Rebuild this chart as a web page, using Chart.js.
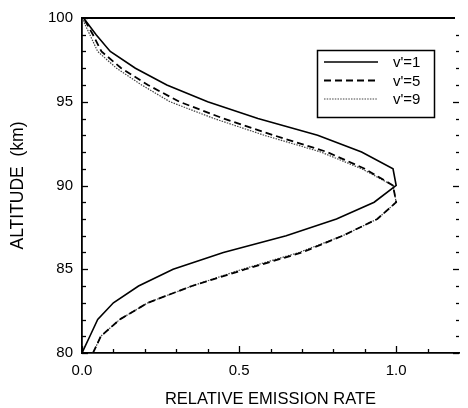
<!DOCTYPE html>
<html>
<head>
<meta charset="utf-8">
<script src="https://cdn.jsdelivr.net/npm/chart.js@4.4.1/dist/chart.umd.min.js"></script>
<style>
  html, body { margin: 0; padding: 0; background: #fff; }
  #wrap { width: 468px; height: 408px; }
</style>
</head>
<body>
<div id="wrap"><canvas id="c" width="468" height="408"></canvas></div>
<script>
// ---- data ----
const altitudes = [80, 81, 82, 83, 84, 85, 86, 87, 88, 89, 90, 91, 92, 93, 94, 95, 96, 97, 98, 99, 100];
const rateV1 = [0.00, 0.025, 0.05, 0.10, 0.18, 0.29, 0.45, 0.65, 0.81, 0.93, 1.00, 0.99, 0.89, 0.75, 0.56, 0.40, 0.27, 0.17, 0.09, 0.045, 0.005];
const rateV5 = [0.035, 0.06, 0.12, 0.21, 0.35, 0.52, 0.70, 0.83, 0.94, 1.00, 0.99, 0.90, 0.78, 0.61, 0.45, 0.31, 0.21, 0.125, 0.062, 0.035, 0.005];
const rateV9 = [0.035, 0.06, 0.12, 0.21, 0.35, 0.51, 0.69, 0.83, 0.94, 1.00, 0.99, 0.89, 0.76, 0.58, 0.42, 0.28, 0.19, 0.11, 0.05, 0.025, 0.0];
const seriesLabels = ["v'=1", "v'=5", "v'=9"];
const xTickLabels = ["0.0", "0.5", "1.0"];
const yTickLabels = ["80", "85", "90", "95", "100"];
const xTitle = "RELATIVE EMISSION RATE";
const yTitle = "ALTITUDE  (km)";

const FONT = "'Liberation Sans', Arial, Helvetica, sans-serif";

function toPoints(rates) {
  return rates.map((v, i) => ({ x: v, y: altitudes[i] }));
}

const styles = [
  { borderColor: '#000', borderWidth: 1.6, borderDash: [] },
  { borderColor: '#000', borderWidth: 1.8, borderDash: [7, 4] },
  { borderColor: '#444', borderWidth: 1.2, borderDash: [1.5, 1.2] }
];

const datasets = [rateV1, rateV5, rateV9].map((r, i) => Object.assign({
  label: seriesLabels[i],
  data: toPoints(r),
  showLine: true,
  fill: false,
  pointRadius: 0,
  tension: 0
}, styles[i]));

function near(a, b) { return Math.abs(a - b) < 1e-6; }

// draws inward ticks, top border, right ticks and legend box
const framePlugin = {
  id: 'frame',
  afterDatasetsDraw(chart) {
    const ctx = chart.ctx;
    const a = chart.chartArea;
    const xs = chart.scales.x, ys = chart.scales.y;
    ctx.save();
    ctx.strokeStyle = '#000';
    ctx.setLineDash([]);
    // top border
    ctx.lineWidth = 1.8;
    ctx.beginPath();
    ctx.moveTo(a.left, a.top);
    ctx.lineTo(a.right - 4, a.top);
    ctx.stroke();
    // x ticks (bottom, inward)
    ctx.lineWidth = 1.3;
    for (let v = 0; v <= 1.2 + 1e-9; v += 0.1) {
      const vv = Math.round(v * 10) / 10;
      const major = xTickLabels.some(l => near(parseFloat(l), vv));
      const px = Math.round(xs.getPixelForValue(vv)) + 0.5;
      if (px > a.right - 1) continue;
      ctx.beginPath();
      ctx.moveTo(px, a.bottom);
      ctx.lineTo(px, a.bottom - (major ? 7 : 4));
      ctx.stroke();
    }
    // y ticks (left and right, inward)
    for (let h = 80; h <= 100; h++) {
      const major = yTickLabels.some(l => near(parseFloat(l), h));
      const py = Math.round(ys.getPixelForValue(h)) + 0.5;
      ctx.beginPath();
      ctx.moveTo(a.left, py);
      ctx.lineTo(a.left + (major ? 6 : 4), py);
      ctx.stroke();
      if (h < 100) {
        ctx.beginPath();
        ctx.moveTo(a.right, py);
        ctx.lineTo(a.right - (major ? 6 : 3), py);
        ctx.stroke();
      }
    }
    // legend
    const bx = 317, by = 50, bw = 117, bh = 67;
    ctx.lineWidth = 1.5;
    ctx.strokeRect(bx + 0.5, by + 0.5, bw, bh);
    ctx.font = '15px ' + FONT;
    ctx.fillStyle = '#000';
    ctx.textBaseline = 'middle';
    ctx.textAlign = 'left';
    chart.data.datasets.forEach((ds, i) => {
      const y = by + 12 + i * 18.5;
      ctx.save();
      ctx.strokeStyle = ds.borderColor;
      ctx.lineWidth = ds.borderWidth;
      ctx.setLineDash(ds.borderDash || []);
      ctx.beginPath();
      ctx.moveTo(bx + 7, y);
      ctx.lineTo(bx + 61, y);
      ctx.stroke();
      ctx.restore();
      ctx.fillText(ds.label, bx + 76, y + 1);
    });
    ctx.restore();
  }
};

new Chart(document.getElementById('c'), {
  type: 'scatter',
  data: { datasets },
  options: {
    responsive: false,
    animation: false,
    devicePixelRatio: 1,
    layout: { padding: { top: 16, right: 0, bottom: 0, left: 0 } },
    plugins: { legend: { display: false }, tooltip: { enabled: false } },
    scales: {
      x: {
        type: 'linear',
        min: 0,
        max: 1.2,
        afterFit: (s) => { s.height = 55; },
        grid: { display: true, drawOnChartArea: false, drawTicks: false, color: 'rgba(0,0,0,0)' },
        border: { display: true, color: '#000', width: 1.8 },
        ticks: {
          autoSkip: false,
          maxRotation: 0,
          padding: 9,
          color: '#000',
          font: { family: FONT, size: 15 },
          stepSize: 0.1,
          callback: (v) => {
            const m = xTickLabels.find(l => near(parseFloat(l), v));
            return m !== undefined ? m : '';
          }
        },
        title: {
          display: true,
          text: xTitle,
          color: '#000',
          font: { family: FONT, size: 16.5, lineHeight: 1.0 },
          padding: { top: 0, bottom: 0 }
        }
      },
      y: {
        type: 'linear',
        min: 80,
        max: 100,
        afterFit: (s) => { s.width = 82; },
        grid: { display: true, drawOnChartArea: false, drawTicks: false, color: 'rgba(0,0,0,0)' },
        border: { display: true, color: '#000', width: 1.8 },
        ticks: {
          autoSkip: false,
          padding: 9,
          color: '#000',
          font: { family: FONT, size: 15 },
          stepSize: 1,
          callback: (v) => {
            const m = yTickLabels.find(l => near(parseFloat(l), v));
            return m !== undefined ? m : '';
          }
        },
        title: {
          display: true,
          text: yTitle,
          color: '#000',
          font: { family: FONT, size: 17.5, lineHeight: 1.2 },
          padding: { top: 8, bottom: 0 }
        }
      }
    }
  },
  plugins: [framePlugin]
});
</script>
</body>
</html>
